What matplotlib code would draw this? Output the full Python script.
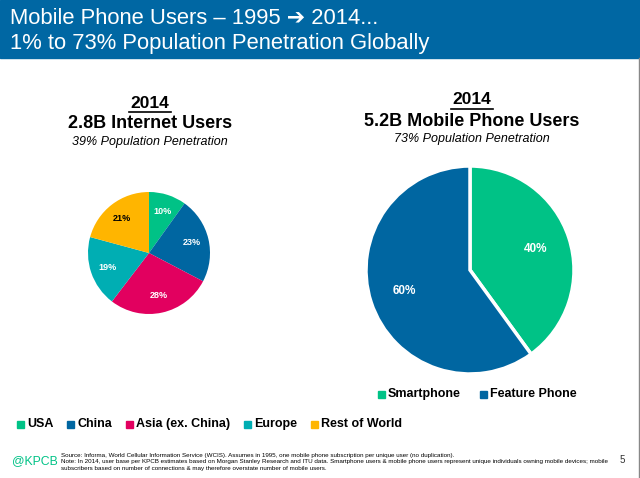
import matplotlib
matplotlib.use("Agg")
import matplotlib.pyplot as plt
from matplotlib.patches import Rectangle

# dane
internet_regiony = ["USA", "China", "Asia (ex. China)", "Europe", "Rest of World"]
internet_udzial = [10, 23, 28, 19, 21]
internet_kolory = ["#00C286", "#0066A1", "#E2005F", "#00AEB3", "#FFB500"]
internet_kolor_tekstu = ["white", "white", "white", "white", "black"]

telefony_typ = ["Smartphone", "Feature Phone"]
telefony_udzial = [40, 60]
telefony_kolory = ["#00C286", "#0066A1"]

W, H = 640, 478
fig = plt.figure(figsize=(W / 100, H / 100), dpi=100)
plt.rcParams['font.family'] = ['Liberation Sans', 'DejaVu Sans']


def fx(x):
    return x / W


def fy(y):
    return 1 - y / H


# pasek tytulu
fig.patches.append(Rectangle((0, fy(58)), 1, 58 / H, transform=fig.transFigure,
                             color="#0067A3", zorder=0))
fig.text(fx(10), fy(18), "Mobile Phone Users \u2013 1995 \u2794 2014...", color="white",
         fontsize=15.8, va="center", ha="left")
fig.text(fx(10), fy(43), "1% to 73% Population Penetration Globally", color="white",
         fontsize=15.8, va="center", ha="left")

# szara linia po prawej
fig.add_artist(plt.Line2D([fx(638.5), fx(638.5)], [0, fy(58)], transform=fig.transFigure,
                          color="#888888", lw=1))

# naglowki
for cx, y0, linia2, linia3 in [(150, 103, "2.8B Internet Users", "39% Population Penetration"),
                               (472, 100, "5.2B Mobile Phone Users", "73% Population Penetration")]:
    fig.text(fx(cx), fy(y0), "2014", fontsize=12.5, fontweight="bold", ha="center", va="center")
    fig.add_artist(plt.Line2D([fx(cx - 21), fx(cx + 21)], [fy(y0 + 8.5), fy(y0 + 8.5)],
                              transform=fig.transFigure, color="black", lw=1.2))
    fig.text(fx(cx), fy(y0 + 21), linia2, fontsize=13, fontweight="bold", ha="center",
             va="center")
    fig.text(fx(cx), fy(y0 + 39), linia3, fontsize=9, style="italic", ha="center", va="center")

# lewy wykres kolowy
cx, cy, r = 149, 253, 61
ax1 = fig.add_axes([fx(cx - r), fy(cy + r), 2 * r / W, 2 * r / H])
wedges, teksty, procenty = ax1.pie(internet_udzial, colors=internet_kolory, startangle=90,
                                   counterclock=False, autopct="%d%%", pctdistance=0.72,
                                   wedgeprops=dict(linewidth=0))
for t, k, v in zip(procenty, internet_kolor_tekstu, internet_udzial):
    t.set_text(f"{v}%")
    t.set_color(k)
    t.set_fontsize(6.5)
    t.set_fontweight("bold")
ax1.set_xlim(-1, 1)
ax1.set_ylim(-1, 1)

# prawy wykres kolowy
cx, cy, r = 470, 270, 104
ax2 = fig.add_axes([fx(cx - r), fy(cy + r), 2 * r / W, 2 * r / H])
wedges2, teksty2, procenty2 = ax2.pie(telefony_udzial, colors=telefony_kolory, startangle=90,
                                      counterclock=False, autopct="%d%%", pctdistance=0.66,
                                      wedgeprops=dict(linewidth=2.5, edgecolor="white"))
for t, v in zip(procenty2, telefony_udzial):
    t.set_text(f"{v}%")
    t.set_color("white")
    t.set_fontsize(8.5)
    t.set_fontweight("bold")
ax2.set_xlim(-1, 1)
ax2.set_ylim(-1, 1)


def legenda(x0, y, nazwy, kolory, odstep):
    x = x0
    for nazwa, kolor in zip(nazwy, kolory):
        fig.patches.append(Rectangle((fx(x), fy(y + 3.5)), 7 / W, 7 / H,
                                     transform=fig.transFigure, color=kolor))
        t = fig.text(fx(x + 10), fy(y), nazwa, fontsize=9, fontweight="bold",
                     ha="left", va="center")
        fig.canvas.draw()
        bb = t.get_window_extent()
        x = bb.x1 + odstep


legenda(17, 424, internet_regiony, internet_kolory, 14)
legenda(378, 394, telefony_typ, telefony_kolory, 19)

# stopka
fig.text(fx(12), fy(461), "@KPCB", color="#00C286", fontsize=8.8,
         ha="left", va="center")
zrodlo = ("Source: Informa, World Cellular Information Service (WCIS). Assumes in 1995, one mobile phone "
          "subscription per unique user (no duplication).\n"
          "Note: In 2014, user base per KPCB estimates based on Morgan Stanley Research and ITU data. "
          "Smartphone users & mobile phone users represent unique individuals owning mobile devices; mobile\n"
          "subscribers based on number of connections & may therefore overstate number of mobile users.")
fig.text(fx(61), fy(452.5), zrodlo, fontsize=4.5, ha="left", va="top", linespacing=1.4)
fig.text(fx(622), fy(460), "5", fontsize=7, ha="center", va="center", color="#333333")

fig.savefig("out.png", dpi=100)
